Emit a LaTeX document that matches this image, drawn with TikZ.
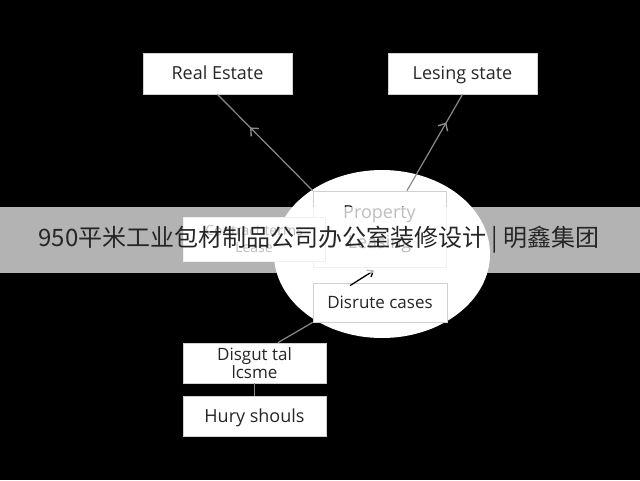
\documentclass[tikz,border=0pt]{standalone}
\usepackage{fontspec}
\setmainfont{Open Sans}
\newfontfamily\cjk{Noto Sans CJK SC}
\usetikzlibrary{arrows.meta,decorations.markings,calc,shapes.geometric}
\definecolor{txt}{HTML}{262626}
\definecolor{edge}{HTML}{D0D0D0}
\definecolor{wire}{HTML}{8A8A8A}
\tikzset{
  box/.style={draw=edge, line width=0.8pt, fill=white, text=txt, align=center,
    font=\fontsize{18}{21}\selectfont, inner sep=0pt},
  oneline/.style={text height=12.8pt, text depth=0pt},
  wireline/.style={draw=wire, line width=1.2pt},
  midarrow/.style={postaction={decorate}, decoration={markings,
    mark=at position #1 with {\arrow[wire, line width=1.4pt]{Straight Barb[length=6pt,width=11pt]}}}},
}
\begin{document}
\begin{tikzpicture}[x=1pt,y=-1pt]
\useasboundingbox (0,0) rectangle (640,480);
\fill[black] (0,0) rectangle (640,480);
% big ellipse
\node[ellipse, fill=white, minimum width=216pt, minimum height=168pt, inner sep=0pt] (ell) at (382,254) {};
% boxes
\node[box, oneline, minimum width=149pt, minimum height=41pt] (re) at (217.5,73.5) {Real Estate};
\node[box, oneline, minimum width=149pt, minimum height=41pt] (ls) at (462.5,73.5) {Lesing state};
\node[box, minimum width=133pt, minimum height=76pt] (prop) at (379.5,229) {Property\\[9pt]Leasing};
\node[box, minimum width=142pt, minimum height=44pt, font=\fontsize{14}{17}\selectfont] (ct) at (254,239) {Contract terms\\Lease};
\node[box, oneline, minimum width=134pt, minimum height=39pt, font=\fontsize{17}{20}\selectfont] (dis) at (380,302.5) {Disrute cases};
\node[box, minimum width=143pt, minimum height=40pt, font=\fontsize{17}{16}\selectfont] (dg) at (254.5,363) {Disgut tal\\lcsme};
\node[box, oneline, minimum width=143pt, minimum height=40pt] (hu) at (254.5,416) {Hury shouls};
% connectors
\draw[wireline, midarrow=0.66] (prop.north west) -- (re.south);
\coordinate (lsend) at ($(prop.north)+(27.5,0)$);
\draw[wireline, midarrow=0.71] (lsend) -- (ls.south);
\coordinate (a1) at ($(dis.north)+(-30,3)$);
\coordinate (a2) at ($(prop.south)+(-5.5,3)$);
\draw[black, line width=1.3pt, -{Straight Barb[length=5pt,width=8pt]}] (a1) -- (a2);
\coordinate (dgtop) at ($(dg.north)+(23.5,0)$);
\draw[wireline] (dis.south west) -- (dgtop);
\draw[wireline] (dg.south) -- (hu.north);
% banner
\fill[white, opacity=0.7] (0,207) rectangle (640,273);
\node[text=txt, font=\cjk\fontsize{24}{28}\selectfont, inner sep=0pt] (banner) at (319,240) {950平米工业包材制品公司办公室装修设计 | 明鑫集团};
\end{tikzpicture}
\end{document}
